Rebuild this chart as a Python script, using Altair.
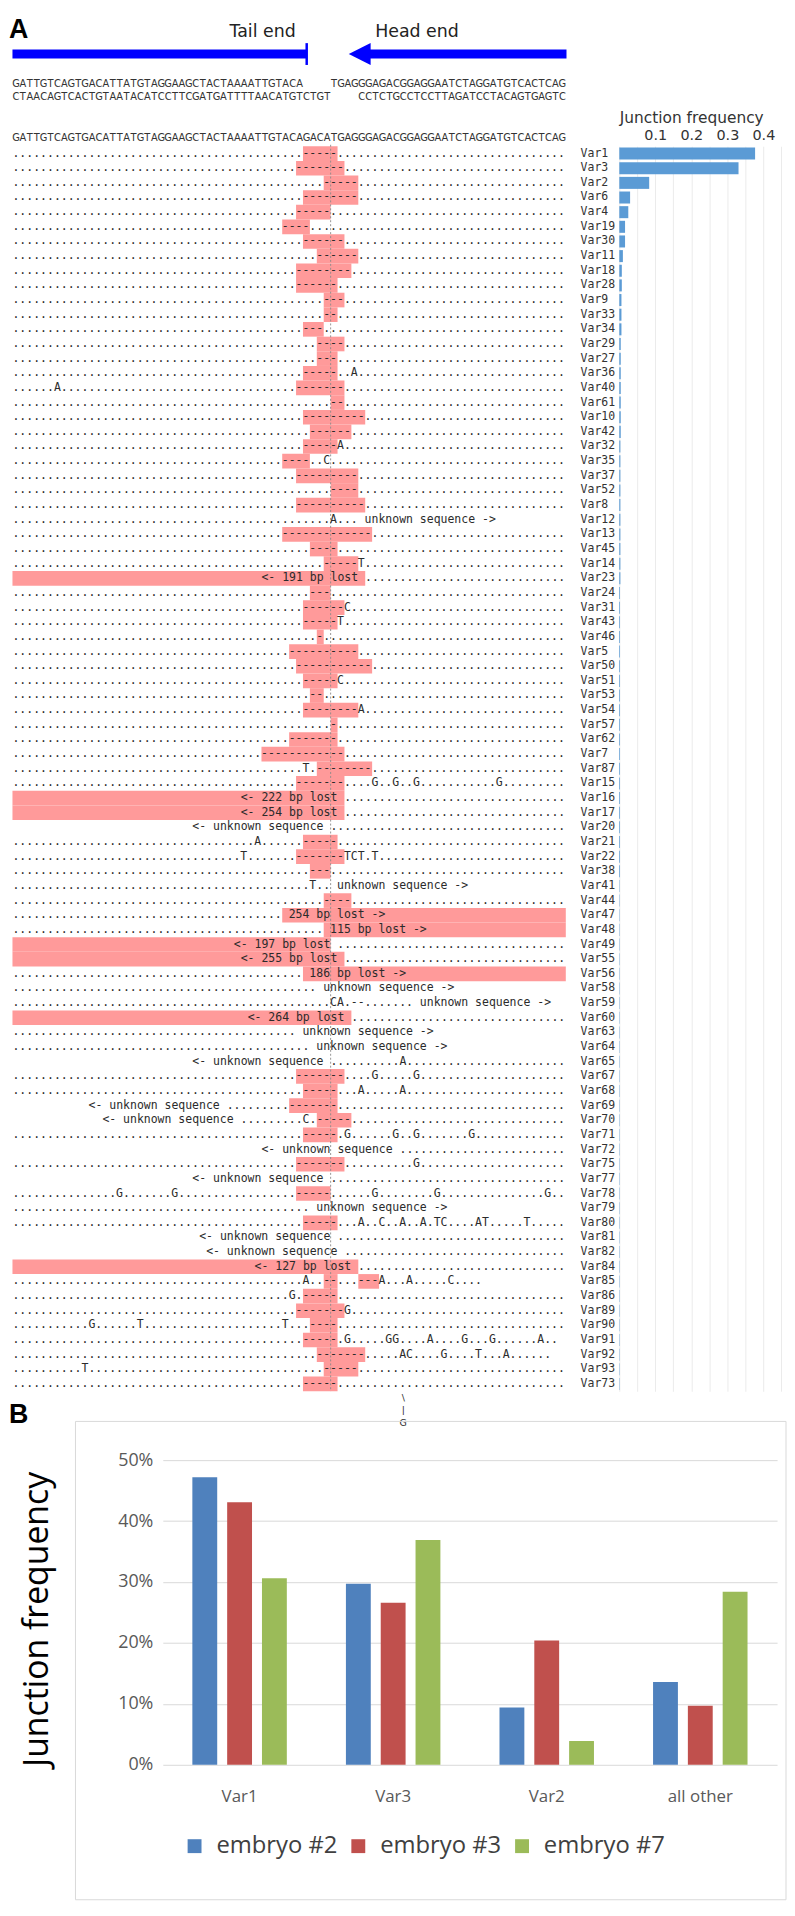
import re
import altair as alt
import pandas as pd

# ---------------- Panel A data ----------------
REF = "GATTGTCAGTGACATTATGTAGGAAGCTACTAAAATTGTACAGACATGAGGGAGACGGAGGAATCTAGGATGTCACTCAG"
TOP1 = [(0, "GATTGTCAGTGACATTATGTAGGAAGCTACTAAAATTGTACA"), (46, "TGAGGGAGACGGAGGAATCTAGGATGTCACTCAG")]
TOP2 = [(0, "CTAACAGTCACTGTAATACATCCTTCGATGATTTTAACATGTCTGT"), (50, "CCTCTGCCTCCTTAGATCCTACAGTGAGTC")]

VARS = ["Var1", "Var3", "Var2", "Var6", "Var4", "Var19", "Var30", "Var11", "Var18", "Var28",
        "Var9", "Var33", "Var34", "Var29", "Var27", "Var36", "Var40", "Var61", "Var10", "Var42",
        "Var32", "Var35", "Var37", "Var52", "Var8", "Var12", "Var13", "Var45", "Var14", "Var23",
        "Var24", "Var31", "Var43", "Var46", "Var5", "Var50", "Var51", "Var53", "Var54", "Var57",
        "Var62", "Var7", "Var87", "Var15", "Var16", "Var17", "Var20", "Var21", "Var22", "Var38",
        "Var41", "Var44", "Var47", "Var48", "Var49", "Var55", "Var56", "Var58", "Var59", "Var60",
        "Var63", "Var64", "Var65", "Var67", "Var68", "Var69", "Var70", "Var71", "Var72", "Var75",
        "Var77", "Var78", "Var79", "Var80", "Var81", "Var82", "Var84", "Var85", "Var86", "Var89",
        "Var90", "Var91", "Var92", "Var93", "Var73"]

FREQ = [0.377, 0.331, 0.083, 0.030, 0.025, 0.016, 0.016, 0.010, 0.007, 0.007,
        0.006, 0.006, 0.006, 0.004, 0.004, 0.004, 0.004, 0.004, 0.004, 0.004,
        0.003, 0.003, 0.003, 0.003, 0.003, 0.003, 0.003, 0.003, 0.003, 0.003,
        0.002, 0.002, 0.002, 0.002, 0.002, 0.002, 0.002, 0.002, 0.002, 0.002,
        0.002, 0.002, 0.002, 0.002, 0.002, 0.002, 0.002, 0.002, 0.002, 0.002,
        0.001, 0.001, 0.001, 0.001, 0.001, 0.001, 0.001, 0.001, 0.001, 0.001,
        0.001, 0.001, 0.001, 0.001, 0.001, 0.001, 0.001, 0.001, 0.001, 0.001,
        0.001, 0.001, 0.001, 0.001, 0.001, 0.001, 0.001, 0.001, 0.001, 0.001,
        0.001, 0.001, 0.001, 0.001, 0.001]

# d: deleted (red, dashes)  L: lost (red, blank)  s: substitutions  t: text  b: blanks  e: end
ROWS = [
    dict(d=[(42, 47)]), dict(d=[(41, 48)]), dict(d=[(45, 50)]), dict(d=[(42, 50)]), dict(d=[(41, 46)]),
    dict(d=[(39, 43)]), dict(d=[(42, 48)]), dict(d=[(44, 50)]), dict(d=[(41, 49)]), dict(d=[(41, 47)]),
    dict(d=[(45, 48)]), dict(d=[(45, 47)]), dict(d=[(42, 45)]), dict(d=[(44, 48)]), dict(d=[(44, 47)]),
    dict(d=[(42, 47)], s={49: "A"}), dict(d=[(41, 48)], s={6: "A"}), dict(d=[(46, 48)]),
    dict(d=[(42, 51)]), dict(d=[(43, 49)]),
    dict(d=[(42, 47)], s={47: "A"}), dict(d=[(39, 43)], s={45: "C"}), dict(d=[(41, 50)]),
    dict(d=[(46, 50)]), dict(d=[(41, 51)]),
    dict(t=[(46, "A... unknown sequence ->")], e=70),
    dict(d=[(39, 52)]), dict(d=[(43, 47)]), dict(d=[(45, 50)], s={50: "T"}),
    dict(L=[(0, 51)], t=[(36, "<- 191 bp lost")]),
    dict(d=[(43, 46)]), dict(d=[(42, 48)], s={48: "C"}), dict(d=[(42, 47)], s={47: "T"}),
    dict(d=[(44, 45)]), dict(d=[(40, 50)]), dict(d=[(41, 52)]), dict(d=[(42, 47)], s={47: "C"}),
    dict(d=[(43, 45)]), dict(d=[(42, 50)], s={50: "A"}), dict(d=[(46, 47)]),
    dict(d=[(40, 47)]), dict(d=[(36, 48)]), dict(d=[(44, 52)], s={42: "T"}),
    dict(d=[(41, 48)], s={52: "G", 55: "G", 58: "G", 70: "G"}),
    dict(L=[(0, 48)], t=[(33, "<- 222 bp lost")]),
    dict(L=[(0, 48)], t=[(33, "<- 254 bp lost")]),
    dict(b=[(0, 26), (45, 46)], t=[(26, "<- unknown sequence")]),
    dict(d=[(42, 47)], s={35: "A"}),
    dict(d=[(41, 48)], s={33: "T"}, t=[(48, "TCT.T")]),
    dict(d=[(43, 46)]),
    dict(t=[(43, "T.. unknown sequence ->")], e=66),
    dict(d=[(45, 49)]),
    dict(L=[(39, 80)], t=[(40, "254 bp lost ->")]),
    dict(L=[(45, 80)], t=[(46, "115 bp lost ->")]),
    dict(L=[(0, 46)], b=[(46, 47)], t=[(32, "<- 197 bp lost")]),
    dict(L=[(0, 48)], t=[(33, "<- 255 bp lost")]),
    dict(L=[(42, 80)], t=[(43, "186 bp lost ->")]),
    dict(b=[(44, 45)], t=[(45, "unknown sequence ->")], e=64),
    dict(t=[(46, "CA.--....... unknown sequence ->")], e=78),
    dict(L=[(0, 49)], t=[(34, "<- 264 bp lost")]),
    dict(b=[(41, 42)], t=[(42, "unknown sequence ->")], e=61),
    dict(b=[(43, 44)], t=[(44, "unknown sequence ->")], e=63),
    dict(b=[(0, 26), (45, 46)], t=[(26, "<- unknown sequence")], s={56: "A"}),
    dict(d=[(41, 48)], s={52: "G", 58: "G"}),
    dict(d=[(42, 47)], s={50: "A", 56: "A"}),
    dict(b=[(0, 11), (30, 31)], t=[(11, "<- unknown sequence")], d=[(40, 47)]),
    dict(b=[(0, 13), (32, 33)], t=[(13, "<- unknown sequence")], s={42: "C"}, d=[(44, 49)]),
    dict(d=[(42, 47)], s={48: "G", 55: "G", 58: "G", 66: "G"}),
    dict(b=[(0, 36), (55, 56)], t=[(36, "<- unknown sequence")]),
    dict(d=[(41, 48)], s={58: "G"}),
    dict(b=[(0, 26), (45, 46)], t=[(26, "<- unknown sequence")]),
    dict(d=[(41, 46)], s={15: "G", 23: "G", 52: "G", 61: "G", 77: "G"}),
    dict(b=[(43, 44)], t=[(44, "unknown sequence ->")], e=63),
    dict(d=[(42, 47)], s={50: "A", 53: "C", 56: "A", 59: "A", 61: "T", 62: "C", 67: "A", 68: "T", 74: "T"}),
    dict(b=[(0, 27), (46, 47)], t=[(27, "<- unknown sequence")]),
    dict(b=[(0, 28), (47, 48)], t=[(28, "<- unknown sequence")]),
    dict(L=[(0, 50)], t=[(35, "<- 127 bp lost")]),
    dict(d=[(45, 47), (50, 53)], s={42: "A", 53: "A", 57: "A", 63: "C"}, e=68),
    dict(d=[(42, 47)], s={40: "G"}),
    dict(d=[(41, 48)], s={48: "G"}),
    dict(d=[(43, 47)], s={11: "G", 18: "T", 39: "T"}),
    dict(d=[(42, 47)], s={48: "G", 54: "G", 55: "G", 60: "A", 65: "G", 69: "G", 76: "A"}, e=79),
    dict(d=[(44, 51)], s={56: "A", 57: "C", 62: "G", 67: "T", 71: "A"}, e=78),
    dict(d=[(45, 50)], s={10: "T"}),
    dict(d=[(42, 47)]),
]
BELOW = [(84.95, "\\"), (85.8, "|"), (86.65, "G")]
BELOW_POS = 56.5
JUNCTION = 46
LABEL_POS = 82.14

# ---------------- Panel B data ----------------
CATS = ["Var1", "Var3", "Var2", "all other"]
EMBRYOS = ["embryo #2", "embryo #3", "embryo #7"]
EMB2 = [0.472, 0.297, 0.094, 0.136]
EMB3 = [0.431, 0.266, 0.204, 0.097]
EMB7 = [0.306, 0.369, 0.039, 0.284]
COLORS = ["#4f81bd", "#c0504d", "#9bbb59"]


def build(spec):
    ch = ["."] * 80
    for s, e in spec.get("d", []):
        ch[s:e] = "-" * (e - s)
    for s, e in spec.get("L", []):
        ch[s:e] = " " * (e - s)
    for s, e in spec.get("b", []):
        ch[s:e] = " " * (e - s)
    for k, c in spec.get("s", {}).items():
        ch[k] = c
    for s, t in spec.get("t", []):
        ch[s:s + len(t)] = list(t)
    for k in range(spec.get("e", 80), 80):
        ch[k] = " "
    return "".join(ch)


text_rows, rect_rows, lab_rows, bar_rows = [], [], [], []
for r, (name, spec, f) in enumerate(zip(VARS, ROWS, FREQ)):
    line = build(spec)
    for m in re.finditer(r"[^ ]+(?: [^ ]+)*", line):
        text_rows.append({"i": m.start(), "r": r, "t": m.group()})
    for s, e in spec.get("d", []) + spec.get("L", []):
        rect_rows.append({"s": s, "e": e, "r0": r - 0.5, "r1": r + 0.5})
    lab_rows.append({"i": LABEL_POS, "r": r, "name": name})
    bar_rows.append({"f0": 0.0, "freq": f, "y0": r - 0.41, "y1": r + 0.41})
below_rows = [{"i": BELOW_POS, "r": r, "t": c} for r, c in BELOW]

seq_rows = []
for (rr, segs) in [(-4.78, TOP1), (-3.85, TOP2), (-1.03, [(0, REF)])]:
    for start, s in segs:
        for k, c in enumerate(s):
            seq_rows.append({"i": start + k + 0.5, "r": rr, "c": c})

df_text = pd.DataFrame(text_rows)
df_below = pd.DataFrame(below_rows)
df_rect = pd.DataFrame(rect_rows)
df_lab = pd.DataFrame(lab_rows)
df_bar = pd.DataFrame(bar_rows)
df_seq = pd.DataFrame(seq_rows)
df_j = pd.DataFrame([{"i": JUNCTION, "r0": -0.6, "r1": 84.5}])
df_shaft = pd.DataFrame([{"x0": 0.0, "x1": 42.54, "r": -6.8}, {"x0": 51.6, "x1": 80.1, "r": -6.8}])
df_tick = pd.DataFrame([{"i": 42.54, "r0": -7.54, "r1": -6.05}])
df_head = pd.DataFrame([{"i": 50.2, "r": -6.8}])
df_tail = pd.DataFrame([{"i": 40.95, "r": -8.30, "t": "Tail end"}])
df_hd = pd.DataFrame([{"i": 52.44, "r": -8.30, "t": "Head end"}])
df_one = pd.DataFrame([{"a": 0}])

# ---------------- geometry ----------------
ORIGIN = 163          # page x of both plot areas
LEFT = ORIGIN - 8     # left extent of both panels
PITCH = 14.76
CW = 6.97
WA = 787 - ORIGIN
XDOM = [(ORIGIN - 11.5) / CW, (ORIGIN - 11.5) / CW + WA / CW]
F0 = 623 - ORIGIN
FDOM = [-F0 / 363, (WA - F0) / 363]
NROW = len(VARS)
HA = NROW * PITCH
YDOM = [-0.5, NROW - 0.5]


def XC(f):
    return alt.X(f, type="quantitative", scale=alt.Scale(domain=XDOM, nice=False, zero=False), axis=None)


def YR(f):
    return alt.Y(f, type="quantitative", scale=alt.Scale(domain=YDOM, reverse=True, nice=False, zero=False), axis=None)


MONO = "DejaVu Sans Mono"
MONO_SIZE = CW / 0.60205
BLUE = "#0000ff"

l_rect = alt.Chart(df_rect).mark_rect(color="#ff9a9a").encode(
    x=XC("s"), x2="e", y=YR("r0"), y2="r1")
l_j = alt.Chart(df_j).mark_rule(color="#8a8a8a", strokeWidth=0.9, strokeDash=[2, 2]).encode(
    x=XC("i"), y=YR("r0"), y2="r1")
l_text = alt.Chart(df_text).mark_text(font=MONO, fontSize=MONO_SIZE, align="left", baseline="middle",
                                      color="#2b2b2b").encode(x=XC("i"), y=YR("r"), text="t:N")
l_below = alt.Chart(df_below).mark_text(font="DejaVu Sans", fontSize=9.5, align="center", baseline="middle",
                                        color="#2b2b2b").encode(x=XC("i"), y=YR("r"), text="t:N")
l_lab = alt.Chart(df_lab).mark_text(font=MONO, fontSize=MONO_SIZE, align="left", baseline="middle",
                                    color="#333333").encode(x=XC("i"), y=YR("r"), text="name:N")
l_seq = alt.Chart(df_seq).mark_text(font="DejaVu Sans Condensed, DejaVu Sans", fontSize=11, align="center",
                                    baseline="middle", color="#333333").encode(x=XC("i"), y=YR("r"), text="c:N")
l_shaft = alt.Chart(df_shaft).mark_rule(color=BLUE, strokeWidth=9).encode(x=XC("x0"), x2="x1", y=YR("r"))
l_tick = alt.Chart(df_tick).mark_rule(color=BLUE, strokeWidth=2.5).encode(x=XC("i"), y=YR("r0"), y2="r1")
l_head = alt.Chart(df_head).mark_point(shape="M -1 0 L 1 -1 L 1 1 Z", filled=True, size=484, color=BLUE,
                                       opacity=1).encode(x=XC("i"), y=YR("r"))
l_tail = alt.Chart(df_tail).mark_text(font="DejaVu Sans", fontSize=17.5, align="right", baseline="middle",
                                      color="#222222").encode(x=XC("i"), y=YR("r"), text="t:N")
l_hd = alt.Chart(df_hd).mark_text(font="DejaVu Sans", fontSize=17.5, align="left", baseline="middle",
                                  color="#222222").encode(x=XC("i"), y=YR("r"), text="t:N")
l_A = alt.Chart(df_one).mark_text(text="A", font="Liberation Sans", fontSize=27, fontWeight="bold",
                                  align="left", baseline="middle", color="#000000").encode(
    x=alt.value(-LEFT), y=alt.value(-117.12))

l_bar = alt.Chart(df_bar).mark_rect(color="#5b9bd5").encode(
    x=alt.X("f0:Q", scale=alt.Scale(domain=FDOM, nice=False, zero=False),
            axis=alt.Axis(orient="top", values=[0, 0.05, 0.1, 0.15, 0.2, 0.25, 0.3, 0.35, 0.4, 0.45],
                          labelExpr="datum.value >= 0.1 && abs(datum.value * 10 - round(datum.value * 10)) < 0.001 ? format(datum.value, '.1f') : ''",
                          grid=True, gridColor="#ebebeb", domain=False, ticks=False, tickSize=0,
                          labelPadding=4, labelFontSize=14.5, labelFont="DejaVu Sans", labelColor="#333333",
                          labelFlush=False, labelOverlap=False,
                          title="Junction frequency", titleX=F0, titleY=-29, titleAlign="left",
                          titleBaseline="middle", titleFontSize=15.5, titleFont="DejaVu Sans",
                          titleFontWeight="normal", titleColor="#333333")),
    x2="freq", y=YR("y0"), y2="y1")

panelA = alt.layer(l_rect, l_j, l_text, l_below, l_lab, l_seq, l_shaft, l_tick, l_head, l_tail, l_hd, l_A,
                   l_bar).resolve_scale(x="independent").properties(width=WA, height=HA)

# ---------------- Panel B ----------------
b_rows = []
for emb, vals in zip(EMBRYOS, [EMB2, EMB3, EMB7]):
    for c, v in zip(CATS, vals):
        b_rows.append({"cat": c, "emb": emb, "val": v})
df_b = pd.DataFrame(b_rows)

WB, HB = 782 - ORIGIN, 307
frame = alt.Chart(df_one).mark_rect(fill="#ffffff", fillOpacity=0, stroke="#d9d9d9", strokeWidth=1).encode(
    x=alt.value(75 - ORIGIN), x2=alt.value(791 - ORIGIN), y=alt.value(-39), y2=alt.value(443))
l_B = alt.Chart(df_one).mark_text(text="B", font="Liberation Sans", fontSize=27, fontWeight="bold",
                                  align="left", baseline="middle", color="#000000").encode(
    x=alt.value(-LEFT), y=alt.value(-45.5))
bars_b = alt.Chart(df_b).mark_bar().encode(
    x=alt.X("cat:N", scale=alt.Scale(domain=CATS, paddingInner=0.32, paddingOuter=0.16),
            axis=alt.Axis(title=None, labelAngle=0, domain=False, ticks=False, labelPadding=24,
                          labelFontSize=17, labelFont="Open Sans", labelColor="#595959")),
    xOffset=alt.XOffset("emb:N", scale=alt.Scale(domain=EMBRYOS, paddingInner=0.286, paddingOuter=0.143)),
    y=alt.Y("val:Q", scale=alt.Scale(domain=[0, 0.5], nice=False),
            axis=alt.Axis(format="%", values=[0, 0.1, 0.2, 0.3, 0.4, 0.5], grid=True, gridColor="#d9d9d9",
                          domain=False, ticks=False, labelPadding=10, labelFontSize=18, labelFont="Open Sans",
                          labelColor="#595959", title="Junction frequency", titleX=37 - ORIGIN, titleY=160,
                          titleAngle=-90, titleAlign="center", titleBaseline="middle", titleFontSize=34,
                          titleFont="Open Sans", titleFontWeight="normal", titleColor="#000000")),
    color=alt.Color("emb:N", scale=alt.Scale(domain=EMBRYOS, range=COLORS),
                    legend=alt.Legend(orient="none", legendX=20, legendY=377, direction="horizontal", title=None,
                                      symbolType="square", symbolSize=196, symbolStrokeWidth=0,
                                      labelFontSize=24, labelFont="Open Sans", labelColor="#404040",
                                      columnPadding=8, labelOffset=10, labelLimit=300)),
)
panelB = alt.layer(frame, l_B, bars_b).properties(width=WB, height=HB)

chart = alt.vconcat(panelA, panelB, spacing=-27).properties(
    padding={"left": 0, "top": 0, "right": 0, "bottom": 0}
).resolve_legend(color="independent").configure_view(stroke=None)

chart.save("out.html", embed_options={"renderer": "svg", "actions": False})
